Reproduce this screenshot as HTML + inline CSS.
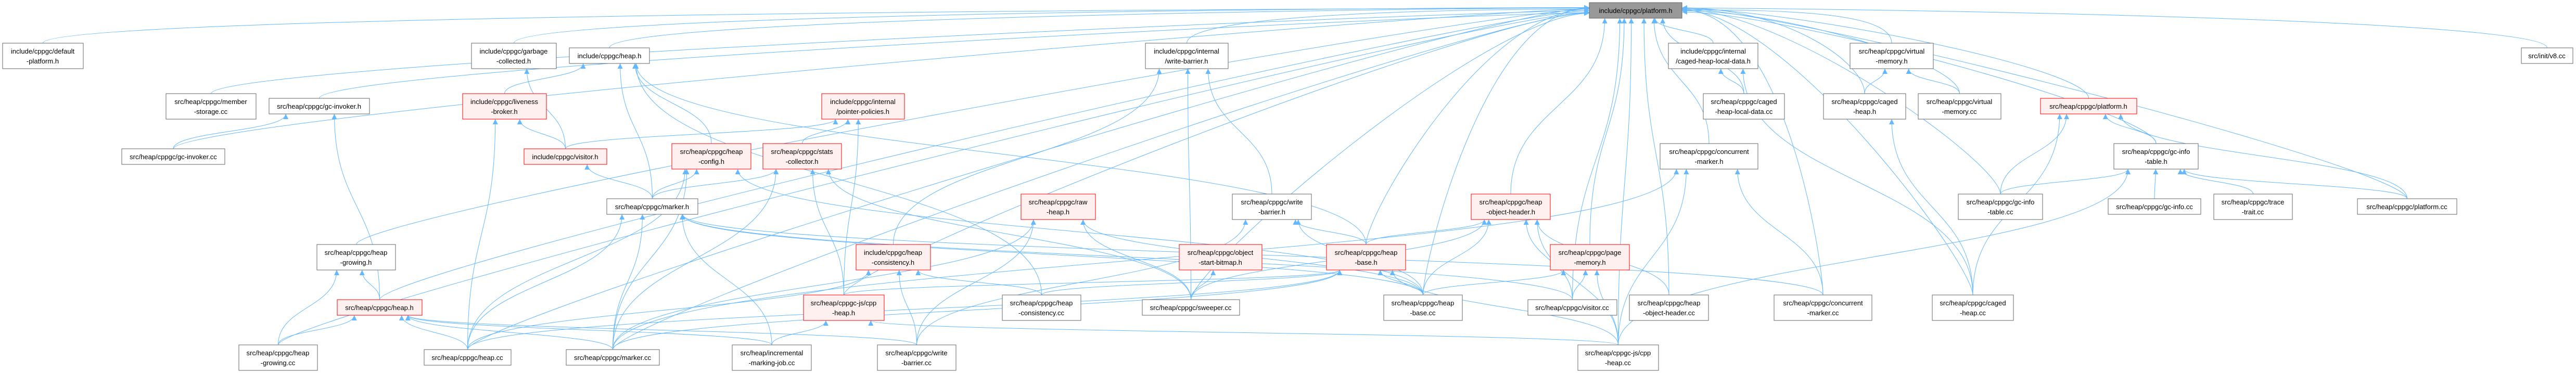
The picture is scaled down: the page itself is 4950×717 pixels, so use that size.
<!DOCTYPE html>
<html><head><meta charset="utf-8"><style>
html,body{margin:0;padding:0;background:#fff;}
svg{display:block;}
text{font-family:"Liberation Sans","DejaVu Sans",sans-serif;font-size:13px;fill:#000;}
</style></head><body>
<svg id="g" xmlns="http://www.w3.org/2000/svg" width="4950" height="717" viewBox="0 0 4950 717">
<defs><marker id="ar" viewBox="0 0 10 10" refX="10" refY="5" markerWidth="10" markerHeight="10" markerUnits="userSpaceOnUse" orient="auto"><path d="M0,0 L10,5 L0,10 z" fill="#63b8ff"/></marker></defs>
<g id="edges" fill="none" stroke="#63b8ff" stroke-width="1"></g>
<g id="nodes">
<rect x="3054" y="5" width="178" height="30" fill="#999" stroke="#666"/><text x="3143" y="25" text-anchor="middle">include/cppgc/platform.h</text>
<rect x="5" y="83" width="155" height="49" fill="#fff" stroke="#666"/><text x="82" y="103" text-anchor="middle">include/cppgc/default</text><text x="82" y="122" text-anchor="middle">-platform.h</text>
<rect x="319" y="180" width="173" height="49" fill="#fff" stroke="#666"/><text x="405" y="200" text-anchor="middle">src/heap/cppgc/member</text><text x="405" y="219" text-anchor="middle">-storage.cc</text>
<rect x="517" y="189" width="193" height="30" fill="#fff" stroke="#666"/><text x="613" y="209" text-anchor="middle">src/heap/cppgc/gc-invoker.h</text>
<rect x="234" y="286" width="198" height="30" fill="#fff" stroke="#666"/><text x="333" y="306" text-anchor="middle">src/heap/cppgc/gc-invoker.cc</text>
<rect x="609" y="470" width="151" height="49" fill="#fff" stroke="#666"/><text x="684" y="490" text-anchor="middle">src/heap/cppgc/heap</text><text x="684" y="509" text-anchor="middle">-growing.h</text>
<rect x="648" y="576" width="163" height="30" fill="#fff0f0" stroke="#f00"/><text x="729" y="596" text-anchor="middle">src/heap/cppgc/heap.h</text>
<rect x="459" y="663" width="151" height="49" fill="#fff" stroke="#666"/><text x="534" y="683" text-anchor="middle">src/heap/cppgc/heap</text><text x="534" y="702" text-anchor="middle">-growing.cc</text>
<rect x="906" y="83" width="163" height="49" fill="#fff" stroke="#666"/><text x="987" y="103" text-anchor="middle">include/cppgc/garbage</text><text x="987" y="122" text-anchor="middle">-collected.h</text>
<rect x="1094" y="92" width="154" height="30" fill="#fff" stroke="#666"/><text x="1171" y="112" text-anchor="middle">include/cppgc/heap.h</text>
<rect x="889" y="180" width="161" height="49" fill="#fff0f0" stroke="#f00"/><text x="969" y="200" text-anchor="middle">include/cppgc/liveness</text><text x="969" y="219" text-anchor="middle">-broker.h</text>
<rect x="1007" y="286" width="159" height="30" fill="#fff0f0" stroke="#f00"/><text x="1086" y="306" text-anchor="middle">include/cppgc/visitor.h</text>
<rect x="1291" y="276" width="152" height="49" fill="#fff0f0" stroke="#f00"/><text x="1367" y="296" text-anchor="middle">src/heap/cppgc/heap</text><text x="1367" y="315" text-anchor="middle">-config.h</text>
<rect x="1466" y="276" width="151" height="49" fill="#fff0f0" stroke="#f00"/><text x="1541" y="296" text-anchor="middle">src/heap/cppgc/stats</text><text x="1541" y="315" text-anchor="middle">-collector.h</text>
<rect x="1579" y="180" width="159" height="49" fill="#fff0f0" stroke="#f00"/><text x="1658" y="200" text-anchor="middle">include/cppgc/internal</text><text x="1658" y="219" text-anchor="middle">/pointer-policies.h</text>
<rect x="1166" y="382" width="175" height="30" fill="#fff" stroke="#666"/><text x="1253" y="402" text-anchor="middle">src/heap/cppgc/marker.h</text>
<rect x="815" y="672" width="167" height="30" fill="#fff" stroke="#666"/><text x="898" y="692" text-anchor="middle">src/heap/cppgc/heap.cc</text>
<rect x="1088" y="672" width="179" height="30" fill="#fff" stroke="#666"/><text x="1177" y="692" text-anchor="middle">src/heap/cppgc/marker.cc</text>
<rect x="1407" y="663" width="152" height="49" fill="#fff" stroke="#666"/><text x="1483" y="683" text-anchor="middle">src/heap/incremental</text><text x="1483" y="702" text-anchor="middle">-marking-job.cc</text>
<rect x="1544" y="567" width="155" height="49" fill="#fff0f0" stroke="#f00"/><text x="1621" y="587" text-anchor="middle">src/heap/cppgc-js/cpp</text><text x="1621" y="606" text-anchor="middle">-heap.h</text>
<rect x="2201" y="83" width="159" height="49" fill="#fff" stroke="#666"/><text x="2280" y="103" text-anchor="middle">include/cppgc/internal</text><text x="2280" y="122" text-anchor="middle">/write-barrier.h</text>
<rect x="1962" y="373" width="143" height="49" fill="#fff0f0" stroke="#f00"/><text x="2033" y="393" text-anchor="middle">src/heap/cppgc/raw</text><text x="2033" y="412" text-anchor="middle">-heap.h</text>
<rect x="1645" y="470" width="143" height="49" fill="#fff0f0" stroke="#f00"/><text x="1716" y="490" text-anchor="middle">include/cppgc/heap</text><text x="1716" y="509" text-anchor="middle">-consistency.h</text>
<rect x="2266" y="470" width="159" height="49" fill="#fff0f0" stroke="#f00"/><text x="2345" y="490" text-anchor="middle">src/heap/cppgc/object</text><text x="2345" y="509" text-anchor="middle">-start-bitmap.h</text>
<rect x="1926" y="567" width="151" height="49" fill="#fff" stroke="#666"/><text x="2001" y="587" text-anchor="middle">src/heap/cppgc/heap</text><text x="2001" y="606" text-anchor="middle">-consistency.cc</text>
<rect x="2195" y="576" width="187" height="30" fill="#fff" stroke="#666"/><text x="2288" y="596" text-anchor="middle">src/heap/cppgc/sweeper.cc</text>
<rect x="1686" y="663" width="151" height="49" fill="#fff" stroke="#666"/><text x="1761" y="683" text-anchor="middle">src/heap/cppgc/write</text><text x="1761" y="702" text-anchor="middle">-barrier.cc</text>
<rect x="2368" y="373" width="152" height="49" fill="#fff" stroke="#666"/><text x="2444" y="393" text-anchor="middle">src/heap/cppgc/write</text><text x="2444" y="412" text-anchor="middle">-barrier.h</text>
<rect x="2827" y="373" width="152" height="49" fill="#fff0f0" stroke="#f00"/><text x="2903" y="393" text-anchor="middle">src/heap/cppgc/heap</text><text x="2903" y="412" text-anchor="middle">-object-header.h</text>
<rect x="2549" y="470" width="152" height="49" fill="#fff0f0" stroke="#f00"/><text x="2625" y="490" text-anchor="middle">src/heap/cppgc/heap</text><text x="2625" y="509" text-anchor="middle">-base.h</text>
<rect x="2979" y="470" width="152" height="49" fill="#fff0f0" stroke="#f00"/><text x="3055" y="490" text-anchor="middle">src/heap/cppgc/page</text><text x="3055" y="509" text-anchor="middle">-memory.h</text>
<rect x="2659" y="567" width="151" height="49" fill="#fff" stroke="#666"/><text x="2734" y="587" text-anchor="middle">src/heap/cppgc/heap</text><text x="2734" y="606" text-anchor="middle">-base.cc</text>
<rect x="2936" y="576" width="171" height="30" fill="#fff" stroke="#666"/><text x="3021" y="596" text-anchor="middle">src/heap/cppgc/visitor.cc</text>
<rect x="3131" y="567" width="152" height="49" fill="#fff" stroke="#666"/><text x="3207" y="587" text-anchor="middle">src/heap/cppgc/heap</text><text x="3207" y="606" text-anchor="middle">-object-header.cc</text>
<rect x="3032" y="663" width="155" height="49" fill="#fff" stroke="#666"/><text x="3109" y="683" text-anchor="middle">src/heap/cppgc-js/cpp</text><text x="3109" y="702" text-anchor="middle">-heap.cc</text>
<rect x="3206" y="83" width="172" height="49" fill="#fff" stroke="#666"/><text x="3292" y="103" text-anchor="middle">include/cppgc/internal</text><text x="3292" y="122" text-anchor="middle">/caged-heap-local-data.h</text>
<rect x="3190" y="276" width="188" height="49" fill="#fff" stroke="#666"/><text x="3284" y="296" text-anchor="middle">src/heap/cppgc/concurrent</text><text x="3284" y="315" text-anchor="middle">-marker.h</text>
<rect x="3273" y="180" width="156" height="49" fill="#fff" stroke="#666"/><text x="3351" y="200" text-anchor="middle">src/heap/cppgc/caged</text><text x="3351" y="219" text-anchor="middle">-heap-local-data.cc</text>
<rect x="3555" y="83" width="160" height="49" fill="#fff" stroke="#666"/><text x="3635" y="103" text-anchor="middle">src/heap/cppgc/virtual</text><text x="3635" y="122" text-anchor="middle">-memory.h</text>
<rect x="3504" y="180" width="158" height="49" fill="#fff" stroke="#666"/><text x="3583" y="200" text-anchor="middle">src/heap/cppgc/caged</text><text x="3583" y="219" text-anchor="middle">-heap.h</text>
<rect x="3686" y="180" width="159" height="49" fill="#fff" stroke="#666"/><text x="3765" y="200" text-anchor="middle">src/heap/cppgc/virtual</text><text x="3765" y="219" text-anchor="middle">-memory.cc</text>
<rect x="3921" y="189" width="185" height="30" fill="#fff0f0" stroke="#f00"/><text x="4013" y="209" text-anchor="middle">src/heap/cppgc/platform.h</text>
<rect x="3409" y="567" width="188" height="49" fill="#fff" stroke="#666"/><text x="3503" y="587" text-anchor="middle">src/heap/cppgc/concurrent</text><text x="3503" y="606" text-anchor="middle">-marker.cc</text>
<rect x="3713" y="567" width="156" height="49" fill="#fff" stroke="#666"/><text x="3791" y="587" text-anchor="middle">src/heap/cppgc/caged</text><text x="3791" y="606" text-anchor="middle">-heap.cc</text>
<rect x="3763" y="373" width="162" height="49" fill="#fff" stroke="#666"/><text x="3844" y="393" text-anchor="middle">src/heap/cppgc/gc-info</text><text x="3844" y="412" text-anchor="middle">-table.cc</text>
<rect x="4062" y="276" width="162" height="49" fill="#fff" stroke="#666"/><text x="4143" y="296" text-anchor="middle">src/heap/cppgc/gc-info</text><text x="4143" y="315" text-anchor="middle">-table.h</text>
<rect x="4051" y="382" width="178" height="30" fill="#fff" stroke="#666"/><text x="4140" y="402" text-anchor="middle">src/heap/cppgc/gc-info.cc</text>
<rect x="4254" y="373" width="151" height="49" fill="#fff" stroke="#666"/><text x="4329" y="393" text-anchor="middle">src/heap/cppgc/trace</text><text x="4329" y="412" text-anchor="middle">-trait.cc</text>
<rect x="4530" y="382" width="191" height="30" fill="#fff" stroke="#666"/><text x="4625" y="402" text-anchor="middle">src/heap/cppgc/platform.cc</text>
<rect x="4845" y="92" width="99" height="30" fill="#fff" stroke="#666"/><text x="4894" y="112" text-anchor="middle">src/init/v8.cc</text>
</g>
</svg>
<script>
var N={P:[3054,5,178,30],A:[5,83,155,49],B:[319,180,173,49],C:[517,189,193,30],D:[234,286,198,30],E:[609,470,151,49],F:[648,576,163,30],G:[459,663,151,49],H:[906,83,163,49],I:[1094,92,154,30],J:[889,180,161,49],K:[1007,286,159,30],L:[1291,276,152,49],M:[1466,276,151,49],Nn:[1579,180,159,49],O:[1166,382,175,30],Q:[815,672,167,30],R:[1088,672,179,30],S:[1407,663,152,49],T:[1544,567,155,49],U:[2201,83,159,49],V:[1962,373,143,49],W:[1645,470,143,49],X:[2266,470,159,49],Y:[1926,567,151,49],Z:[2195,576,187,30],a:[1686,663,151,49],b:[2368,373,152,49],c:[2827,373,152,49],d:[2549,470,152,49],e:[2979,470,152,49],f:[2659,567,151,49],g:[2936,576,171,30],h:[3131,567,152,49],i:[3032,663,155,49],j:[3206,83,172,49],k:[3190,276,188,49],l:[3273,180,156,49],m:[3555,83,160,49],n:[3504,180,158,49],o:[3686,180,159,49],p:[3921,189,185,30],q:[3409,567,188,49],r:[3713,567,156,49],s:[3763,373,162,49],t:[4062,276,162,49],u:[4051,382,178,30],v:[4254,373,151,49],w:[4530,382,191,30],x:[4845,92,99,30]};
var E="A-P B-P C-P D-P G-P H-P I-P U-P j-P m-P n-P o-P p-P k-P d-P f-P e-P r-P s-P t-P w-P x-P i-P E-P F-P R-P Q-P l-P q-P h-P g-P T-P Z-P c-P D-C F-C G-E F-E G-F Q-F R-F a-F S-F K-H J-I O-I L-I d-I Y-I K-J Q-J O-K K-Nn O-L Q-L R-L f-L O-M Z-M T-M R-M M-Nn T-Nn Q-O R-O S-O f-O q-O g-O S-T i-T W-U Z-U b-U Z-V f-V R-V a-V Y-W a-W Q-W Z-X d-b f-b a-b d-c f-c h-c i-c g-c Z-c f-d Q-d R-d i-d T-d Y-d g-e i-e f-e l-j r-j n-m o-m r-n s-p r-p t-p w-p q-k i-k R-k s-t u-t v-t w-t i-t".split(" ");
var G=document.getElementById("edges"),s="";
E.forEach(function(e){var p=e.split("-"),a=N[p[0]],b=N[p[1]];if(!a||!b)return;
var sx=a[0]+a[2]/2,sy=a[1],tx,ty;
if(p[1]=="P"&&Math.abs(sx-3143)>300){ty=20+((sx*7)%12)-6;tx=sx<3143?3054:3232;
 var mx=(sx+tx)/2;s+='<path d="M'+sx+','+sy+' C'+sx+','+(sy-60)+' '+(tx+(sx<tx?-200:200))+','+ty+' '+tx+','+ty+'" marker-end="url(#ar)"/>';return;}
if(b[1]>=a[1]){ty=b[1]+b[3]/2;tx=sx<b[0]?b[0]:b[0]+b[2];sy=a[1]+a[3]/2;sx=sx<b[0]?a[0]+a[2]:a[0];
 s+='<path d="M'+sx+','+sy+' C'+(sx+(tx-sx)/3)+','+sy+' '+(tx-(tx-sx)/3)+','+ty+' '+tx+','+ty+'" marker-end="url(#ar)"/>';return;}
tx=b[0]+b[2]/2+Math.max(-b[2]/3,Math.min(b[2]/3,(sx-(b[0]+b[2]/2))/4));ty=b[1]+b[3];
var dy=(sy-ty)/2;s+='<path d="M'+sx+','+sy+' C'+sx+','+(sy-dy)+' '+tx+','+(ty+dy)+' '+tx+','+ty+'" marker-end="url(#ar)"/>';});
G.innerHTML=s;
</script>
</body></html>
